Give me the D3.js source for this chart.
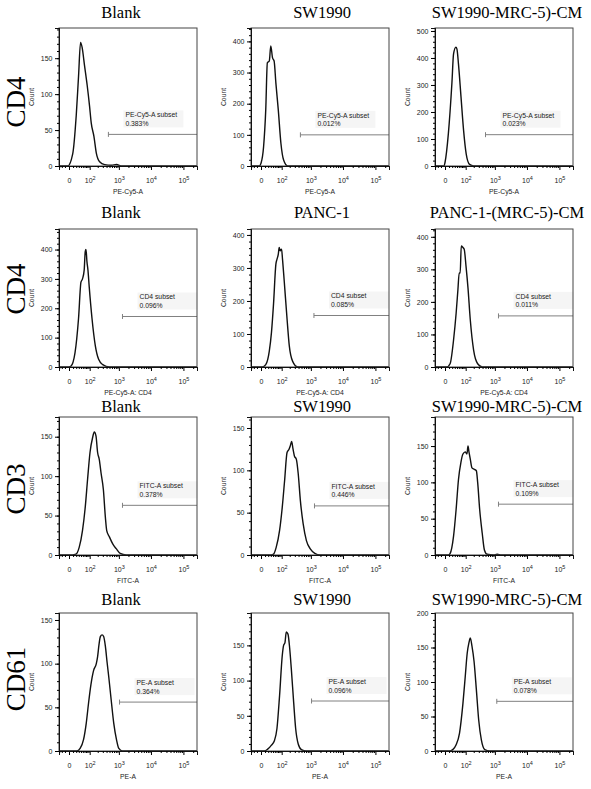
<!DOCTYPE html>
<html>
<head>
<meta charset="utf-8">
<script src="https://cdn.jsdelivr.net/npm/d3@7"></script>
<style>
	body { margin: 0; background: #fff; }
	svg { display: block; }
</style>
</head>
<body>
<svg width="591" height="789"></svg>
<script>
// panels go row by row, left to right
const rowLabels = ["CD4", "CD4", "CD3", "CD61"]
const colTitles = [
	"Blank", "SW1990", "SW1990-MRC-5)-CM",
	"Blank", "PANC-1", "PANC-1-(MRC-5)-CM",
	"Blank", "SW1990", "SW1990-MRC-5)-CM",
	"Blank", "SW1990", "SW1990-MRC-5)-CM",
]
const xTitles = ["PE-Cy5-A", "PE-Cy5-A: CD4", "FITC-A", "PE-A"]
const gateNames = ["PE-Cy5-A subset", "CD4 subset", "FITC-A subset", "PE-A subset"]
const gatePct = [
	"0.383%", "0.012%", "0.023%",
	"0.096%", "0.085%", "0.011%",
	"0.378%", "0.446%", "0.109%",
	"0.364%", "0.096%", "0.078%",
]
const yMax = [192, 443, 511, 470, 418, 424, 175, 163, 190, 158, 196, 200]
const yStep = [50, 100, 100, 100, 100, 100, 50, 50, 50, 50, 50, 50]
const gateStart = [460, 460, 500, 1300, 1250, 1300, 1300, 1300, 1300, 1050, 1050, 1150]
const gateLevel = [44, 100, 116, 172, 156, 157, 63, 58, 70, 56, 71, 72]
const xTickValues = [0, 1e2, 1e3, 1e4, 1e5]
const xMinorTicks = [-30, -20, -10, 10, 20, 30, 40, 50, 60, 70, 80, 90,
	200, 300, 400, 500, 600, 700, 800, 900,
	2000, 3000, 4000, 5000, 6000, 7000, 8000, 9000,
	20000, 30000, 40000, 50000, 60000, 70000, 80000, 90000, 200000]

// [fluorescence, count]
const histCD4Blank = [[-31,0],[-3,0],[9,17],[20,70],[29,125],[38,172],[46,165],[60,140],[79,112],[99,83],[115,60],[146,41],[178,18],[233,6],[346,2],[577,1],[840,2],[1250,0],[262144,0]]
const histCD4Sw = [[-31,0],[-4,0],[0,9],[6,62],[12,181],[17,331],[24,337],[30,385],[38,347],[46,337],[56,267],[72,181],[93,73],[119,19],[168,0],[262144,0]]
const histCD4SwCM = [[-31,0],[-2,0],[0,13],[8,119],[19,308],[25,415],[35,440],[40,433],[48,377],[63,258],[82,132],[105,44],[141,6],[200,0],[262144,0]]
const histCD4Blank2 = [[-31,0],[0,0],[4,2],[16,49],[29,166],[40,289],[48,300],[58,330],[65,394],[70,400],[77,359],[85,330],[96,272],[123,166],[164,72],[215,26],[297,8],[496,0],[262144,0]]
const histCD4Panc = [[-31,0],[3,0],[12,7],[24,48],[33,105],[43,192],[56,311],[63,326],[72,341],[79,362],[87,352],[99,357],[108,326],[126,259],[160,146],[193,64],[253,17],[375,0],[262144,0]]
const histCD4PancCM = [[-31,0],[4,0],[13,10],[25,83],[36,165],[45,238],[52,289],[58,289],[65,372],[77,367],[87,362],[103,310],[123,243],[150,145],[198,52],[274,10],[390,0],[262144,0]]
const histCD3Blank = [[-31,0],[8,0],[19,1],[32,10],[48,31],[65,61],[82,96],[103,130],[130,149],[150,156],[173,151],[198,130],[227,121],[261,104],[313,83],[365,48],[405,31],[496,23],[636,14],[820,8],[1100,2],[1700,0],[262144,0]]
const histCD3Sw = [[-31,0],[32,0],[43,1],[58,9],[82,29],[105,56],[130,88],[160,121],[189,125],[210,129],[233,134],[261,125],[290,117],[338,113],[390,96],[460,64],[565,37],[720,17],[970,7],[1330,2],[1950,0],[262144,0]]
const histCD3SwCM = [[-31,0],[8,0],[13,2],[25,26],[36,63],[48,104],[63,128],[77,139],[96,142],[112,139],[123,150],[134,142],[150,132],[173,120],[210,118],[247,116],[274,100],[320,63],[390,30],[460,7],[565,1],[920,0],[1180,1],[1600,0],[262144,0]]
const histCD61Blank = [[-31,0],[22,0],[36,3],[54,13],[72,32],[90,55],[112,76],[141,92],[178,100],[198,108],[222,122],[247,131],[283,133],[320,131],[365,120],[418,101],[472,85],[565,59],[685,32],[840,13],[995,3],[1300,0],[262144,0]]
const histCD61Sw = [[-31,0],[8,0],[19,3],[32,8],[48,15],[63,32],[82,79],[105,135],[119,150],[134,154],[150,169],[173,166],[198,147],[227,117],[274,69],[320,32],[390,10],[496,2],[720,0],[262144,0]]
const histCD61SwCM = [[-31,0],[11,0],[22,2],[36,9],[54,26],[77,69],[96,108],[115,142],[134,157],[150,164],[173,152],[205,130],[247,89],[297,45],[365,16],[472,2],[685,0],[262144,0]]

const histograms = [
	histCD4Blank, histCD4Sw, histCD4SwCM,
	histCD4Blank2, histCD4Panc, histCD4PancCM,
	histCD3Blank, histCD3Sw, histCD3SwCM,
	histCD61Blank, histCD61Sw, histCD61SwCM,
]

// layout
const colX = [59, 251, 435]
const rowY = [28, 229, 417, 613]
const panelW = 138, panelH = 138
const titleX = [121, 322, 507]
const titleY = [18, 218, 412, 605]
const rowLabelY = [102, 289, 489, 679]

const sans = "Arial, 'Liberation Sans', sans-serif"
const serif = "'Times New Roman', 'Liberation Serif', serif"

var svg = d3.select("svg")

rowLabels.forEach((lab, r) => {
	svg.append("text")
		.attr("transform", `translate(25,${rowLabelY[r]}) rotate(-90)`)
		.attr("text-anchor", "middle")
		.style("font-family", serif)
		.style("font-size", "27px")
		.text(lab)
})

histograms.forEach((hist, i) => {
	const r = Math.floor(i / 3), c = i % 3
	const x0 = colX[c], y0 = rowY[r]

	const x = d3.scaleSymlog().constant(30).domain([-31, 262144]).range([x0, x0 + panelW])
	const y = d3.scaleLinear().domain([0, yMax[i]]).range([y0 + panelH, y0])

	// column title
	svg.append("text")
		.attr("x", titleX[c])
		.attr("y", titleY[r])
		.attr("text-anchor", "middle")
		.style("font-family", serif)
		.style("font-size", "16.5px")
		.text(colTitles[i])

	const g = svg.append("g")

	// gate label box + gate
	const gx = x(gateStart[i]), gy = y(gateLevel[i])
	g.append("rect")
		.attr("x", gx + 15)
		.attr("y", gy - 24)
		.attr("width", 60)
		.attr("height", 17)
		.attr("fill", "#f5f5f5")
	g.append("text")
		.attr("x", gx + 17)
		.attr("y", gy - 17)
		.style("font-family", sans)
		.style("font-size", "6.8px")
		.attr("fill", "#222")
		.text(gateNames[r])
	g.append("text")
		.attr("x", gx + 17)
		.attr("y", gy - 8.5)
		.style("font-family", sans)
		.style("font-size", "6.8px")
		.attr("fill", "#222")
		.text(gatePct[i])
	g.append("line")
		.attr("x1", gx).attr("x2", x0 + panelW)
		.attr("y1", gy).attr("y2", gy)
		.attr("stroke", "#808080")
	g.append("line")
		.attr("x1", gx).attr("x2", gx)
		.attr("y1", gy - 2.5).attr("y2", gy + 2.5)
		.attr("stroke", "#808080")

	// histogram
	g.append("path")
		.datum(hist)
		.attr("fill", "none")
		.attr("stroke", "#111")
		.attr("stroke-width", 1.4)
		.attr("stroke-linejoin", "round")
		.attr("d", d3.line().x(d => x(d[0])).y(d => y(d[1])).curve(d3.curveMonotoneX))

	// frame
	g.append("rect")
		.attr("x", x0).attr("y", y0)
		.attr("width", panelW).attr("height", panelH)
		.attr("fill", "none")
		.attr("stroke", "#444")

	// y axis
	const yt = d3.range(0, yMax[i] + 1, yStep[i])
	const yAx = g.append("g")
		.attr("transform", `translate(${x0},0)`)
		.call(d3.axisLeft(y).tickValues(yt).tickSize(4).tickPadding(2.5))
	yAx.append("g")
		.call(d3.axisLeft(y).tickValues(d3.range(0, yMax[i], yStep[i] / 5)).tickSize(2).tickFormat(""))
	yAx.selectAll(".domain").attr("stroke", "#111")
	yAx.selectAll("text").style("font-family", sans).style("font-size", "7px").attr("fill", "#222")

	// x axis
	const xAx = g.append("g")
		.attr("transform", `translate(0,${y0 + panelH})`)
		.call(d3.axisBottom(x).tickValues(xTickValues).tickSize(4).tickPadding(5).tickFormat(""))
	xAx.append("g")
		.call(d3.axisBottom(x).tickValues(xMinorTicks).tickSize(2).tickFormat(""))
	xAx.selectAll(".domain").attr("stroke", "#111")
	xAx.selectAll(".tick text")
		.filter(function () { return this.parentNode.parentNode === xAx.node() })
		.each(function (d) {
			const t = d3.select(this)
				.style("font-family", sans)
				.style("font-size", "7px")
				.attr("fill", "#222")
				.attr("dy", "1.2em")
			if (d === 0) {
				t.text("0")
			} else {
				t.append("tspan").text("10")
				t.append("tspan")
					.attr("dy", "-0.6em")
					.style("font-size", "5.5px")
					.text(Math.round(Math.log10(d)))
			}
		})

	// axis titles
	g.append("text")
		.attr("transform", `translate(${x0 - 25},${y0 + panelH / 2}) rotate(-90)`)
		.attr("text-anchor", "middle")
		.style("font-family", sans)
		.style("font-size", "6.8px")
		.attr("fill", "#222")
		.text("Count")
	g.append("text")
		.attr("x", x0 + panelW / 2)
		.attr("y", y0 + panelH + 28)
		.attr("text-anchor", "middle")
		.style("font-family", sans)
		.style("font-size", "6.8px")
		.attr("fill", "#222")
		.text(xTitles[r])
})
</script>
</body>
</html>
